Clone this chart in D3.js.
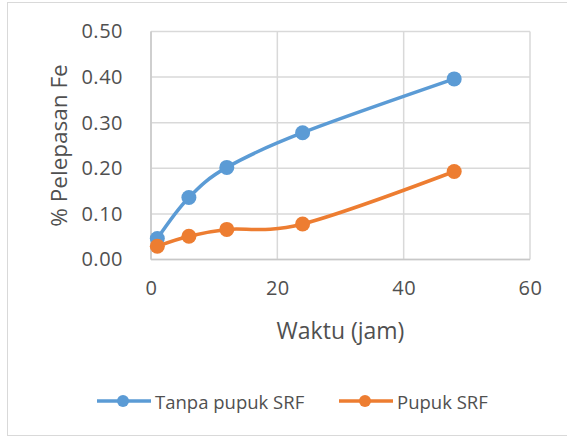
<!DOCTYPE html>
<html>
<head>
<meta charset="utf-8">
<script src="https://cdn.jsdelivr.net/npm/d3@7"></script>
<style>
  body { margin: 0; background: #fff; }
  text { font-family: "Open Sans", sans-serif; fill: #505050; }
</style>
</head>
<body>
<svg width="567" height="437"></svg>
<script>
// data
const waktu = [1, 6, 12, 24, 48];
const tanpaSRF = [0.046, 0.136, 0.202, 0.278, 0.396];
const pupukSRF = [0.029, 0.051, 0.066, 0.078, 0.193];
const xTicks = [0, 20, 40, 60];
const yTicks = [0, 0.1, 0.2, 0.3, 0.4, 0.5];
const seriesNames = ["Tanpa pupuk SRF", "Pupuk SRF"];
const colors = ["#5b9bd5", "#ed7d31"];

const svg = d3.select("svg");
const margin = {top: 31.5, left: 151, right: 37, bottom: 177.5},
    width = +svg.attr("width") - margin.left - margin.right,
    height = +svg.attr("height") - margin.top - margin.bottom
;

// chart border
svg.append("rect")
    .attr("x", 7.5).attr("y", 2.5)
    .attr("width", 620).attr("height", 433)
    .attr("fill", "none")
    .attr("stroke", "#d9d9d9");

const x = d3.scaleLinear().domain([0, 60]).range([0, width]);
const y = d3.scaleLinear().domain([0, 0.5]).range([height, 0]);

const g = svg.append("g")
    .attr("transform", "translate(" + margin.left + "," + margin.top + ")");

// gridlines
g.append("g").selectAll("line")
    .data(yTicks)
    .enter()
    .append("line")
    .attr("x1", 0).attr("x2", width)
    .attr("y1", d => y(d)).attr("y2", d => y(d))
    .attr("stroke", "#d9d9d9").attr("stroke-width", 1.5);

g.append("g").selectAll("line")
    .data(xTicks)
    .enter()
    .append("line")
    .attr("x1", d => x(d)).attr("x2", d => x(d))
    .attr("y1", 0).attr("y2", height)
    .attr("stroke", "#d9d9d9").attr("stroke-width", 1.5);

// axis lines
g.append("line").attr("x1", 0).attr("x2", 0).attr("y1", 0).attr("y2", height)
    .attr("stroke", "#c8c8c8").attr("stroke-width", 1.5);
g.append("line").attr("x1", 0).attr("x2", width).attr("y1", height).attr("y2", height)
    .attr("stroke", "#c8c8c8").attr("stroke-width", 1.5);

// tick labels
var yaxis = g.append("g")
    .call(d3.axisLeft(y).tickValues(yTicks).tickFormat(d3.format(".2f")).tickSize(0).tickPadding(28));
var xaxis = g.append("g")
    .attr("transform", "translate(0," + height + ")")
    .call(d3.axisBottom(x).tickValues(xTicks).tickSize(0).tickPadding(21));
[yaxis, xaxis].forEach(a => {
    a.select(".domain").remove();
    a.selectAll("text")
        .style("font-family", '"Open Sans", sans-serif')
        .style("font-size", "20px")
        .style("letter-spacing", "0.5px")
        .attr("fill", "#505050");
});

// axis titles
svg.append("text")
    .attr("transform", "translate(58," + (margin.top + height / 2) + ") rotate(-90)")
    .attr("text-anchor", "middle")
    .attr("dominant-baseline", "central")
    .style("font-size", "22.5px")
    .text("% Pelepasan Fe");
svg.append("text")
    .attr("x", margin.left + width / 2)
    .attr("y", 330)
    .attr("text-anchor", "middle")
    .attr("dominant-baseline", "central")
    .style("font-size", "23px")
    .text("Waktu (jam)");

// series
const series = [tanpaSRF, pupukSRF];
const line = d3.line()
    .x((d, i) => x(waktu[i]))
    .y(d => y(d))
    .curve(d3.curveCardinal.tension(0));

series.forEach((vals, k) => {
    g.append("path")
        .datum(vals)
        .attr("d", line)
        .attr("fill", "none")
        .attr("stroke", colors[k])
        .attr("stroke-width", 3.5);
    g.append("g").selectAll("circle")
        .data(vals)
        .enter()
        .append("circle")
        .attr("cx", (d, i) => x(waktu[i]))
        .attr("cy", d => y(d))
        .attr("r", 7.5)
        .attr("fill", colors[k]);
});

// legend
const legendX = [97, 339];
const legend = svg.append("g").selectAll("g")
    .data(seriesNames)
    .enter()
    .append("g")
    .attr("transform", (d, i) => "translate(" + legendX[i] + ",401)");
legend.append("line")
    .attr("x1", 0).attr("x2", 54)
    .attr("stroke", (d, i) => colors[i])
    .attr("stroke-width", 3.5);
legend.append("circle")
    .attr("cx", 26).attr("r", 6)
    .attr("fill", (d, i) => colors[i]);
legend.append("text")
    .attr("x", 58)
    .attr("dominant-baseline", "central")
    .style("font-size", "18.5px")
    .text(d => d);
</script>
</body>
</html>
